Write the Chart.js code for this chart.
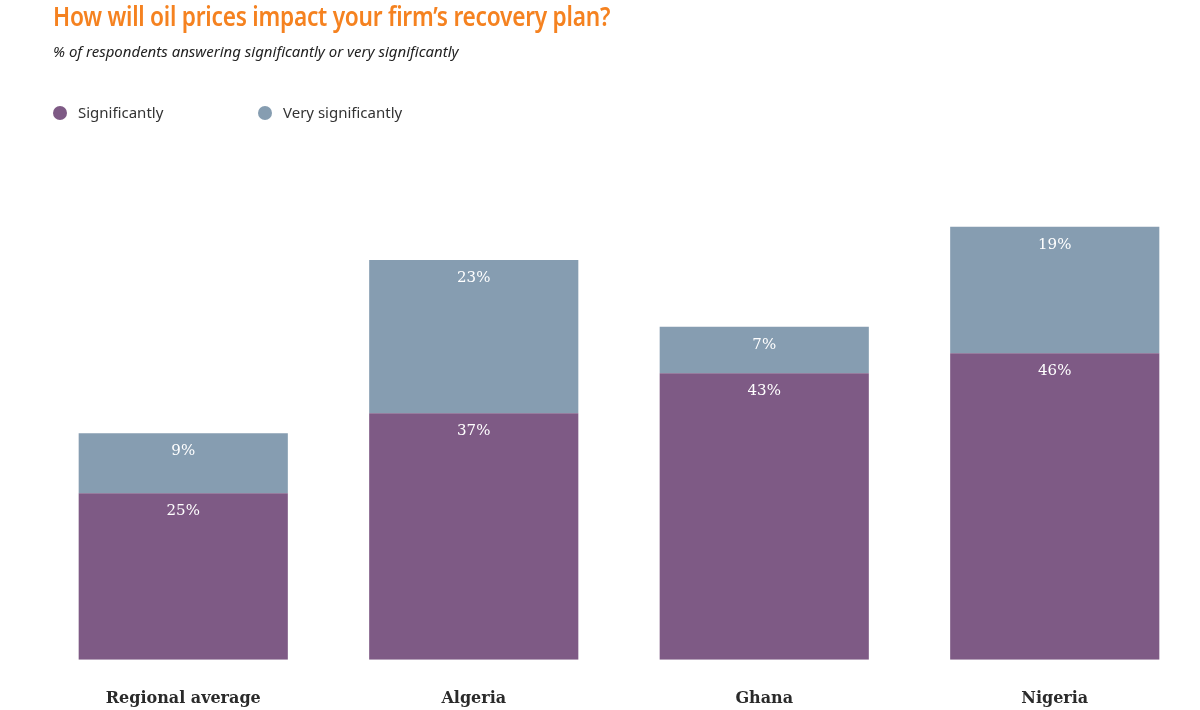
<!DOCTYPE html>
<html>
<head>
<meta charset="utf-8">
<script src="https://cdn.jsdelivr.net/npm/chart.js@4.4.1/dist/chart.umd.min.js"></script>
<style>
  body { margin: 0; background: #fff; }
  #wrap { position: relative; width: 1200px; height: 710px; overflow: hidden; }
  #chart { position: absolute; left: 0; top: 0; }
  .title { position: absolute; left: 53px; top: -3px; font: 600 27px "Noto Sans", sans-serif; color: #f58220; letter-spacing: -0.3px; transform: scaleX(0.84); transform-origin: left top; white-space: nowrap; }
  .subtitle { position: absolute; left: 53px; top: 41px; font: italic 15px "Noto Sans", sans-serif; color: #222; }
  .legend { position: absolute; left: 53px; top: 102px; font: 15px "Noto Sans", sans-serif; color: #333; }
  .legend span.item { position: absolute; white-space: nowrap; }
  .legend i { display: inline-block; width: 14px; height: 14px; border-radius: 50%; vertical-align: -2px; margin-right: 11px; }
</style>
</head>
<body>
<div id="wrap">
  <canvas id="chart" width="1200" height="737"></canvas>
  <div class="title">How will oil prices impact your firm’s recovery plan?</div>
  <div class="subtitle">% of respondents answering significantly or very significantly</div>
  <div class="legend" id="legend"></div>
</div>
<script>
"use strict";

// chart data
const categories = ["Regional average", "Algeria", "Ghana", "Nigeria"];
const significantly = [25, 37, 43, 46];
const verySignificantly = [9, 23, 7, 19];
const seriesNames = ["Significantly", "Very significantly"];
const seriesColors = ["#7e5a85", "#869db1"];

// html legend, built from the series
const legendBox = document.getElementById("legend");
const legendOffsets = [0, 205];
for (let i = 0; i < seriesNames.length; i++) {
  const item = document.createElement("span");
  item.className = "item";
  item.style.left = legendOffsets[i] + "px";
  item.innerHTML = `<i style="background:${seriesColors[i]}"></i>${seriesNames[i]}`;
  legendBox.appendChild(item);
}

// draws the % values inside each segment, near its top
const valueLabels = {
  id: "valueLabels",
  afterDatasetsDraw(chart) {
    const ctx = chart.ctx;
    ctx.save();
    ctx.fillStyle = "#ffffff";
    ctx.font = "15px 'DejaVu Serif', serif";
    ctx.textAlign = "center";
    ctx.textBaseline = "middle";
    chart.data.datasets.forEach((ds, d) => {
      chart.getDatasetMeta(d).data.forEach((bar, i) => {
        ctx.fillText(ds.data[i] + "%", bar.x, bar.y + 18);
      });
    });
    ctx.restore();
  }
};

const data = {
  labels: categories,
  datasets: [
    {
      label: seriesNames[0],
      data: significantly,
      backgroundColor: seriesColors[0],
      borderWidth: 0,
    },
    {
      label: seriesNames[1],
      data: verySignificantly,
      backgroundColor: seriesColors[1],
      borderWidth: 0,
    },
  ],
};

const config = {
  type: "bar",
  data: data,
  plugins: [valueLabels],
  options: {
    responsive: false,
    animation: false,
    barPercentage: 0.72,
    categoryPercentage: 1,
    layout: { padding: { left: 38, right: 0, top: 193.5, bottom: 0 } },
    plugins: {
      legend: { display: false },
      tooltip: { enabled: false },
    },
    scales: {
      x: {
        stacked: true,
        grid: { display: false, drawTicks: false },
        border: { display: false },
        ticks: {
          padding: 29,
          color: "#2a2a2a",
          font: { family: "'DejaVu Serif', serif", size: 16, weight: "bold" },
        },
      },
      y: {
        stacked: true,
        display: false,
        min: 0,
        max: 70,
      },
    },
  },
};

const myChart = new Chart(document.getElementById("chart"), config);
</script>
</body>
</html>
